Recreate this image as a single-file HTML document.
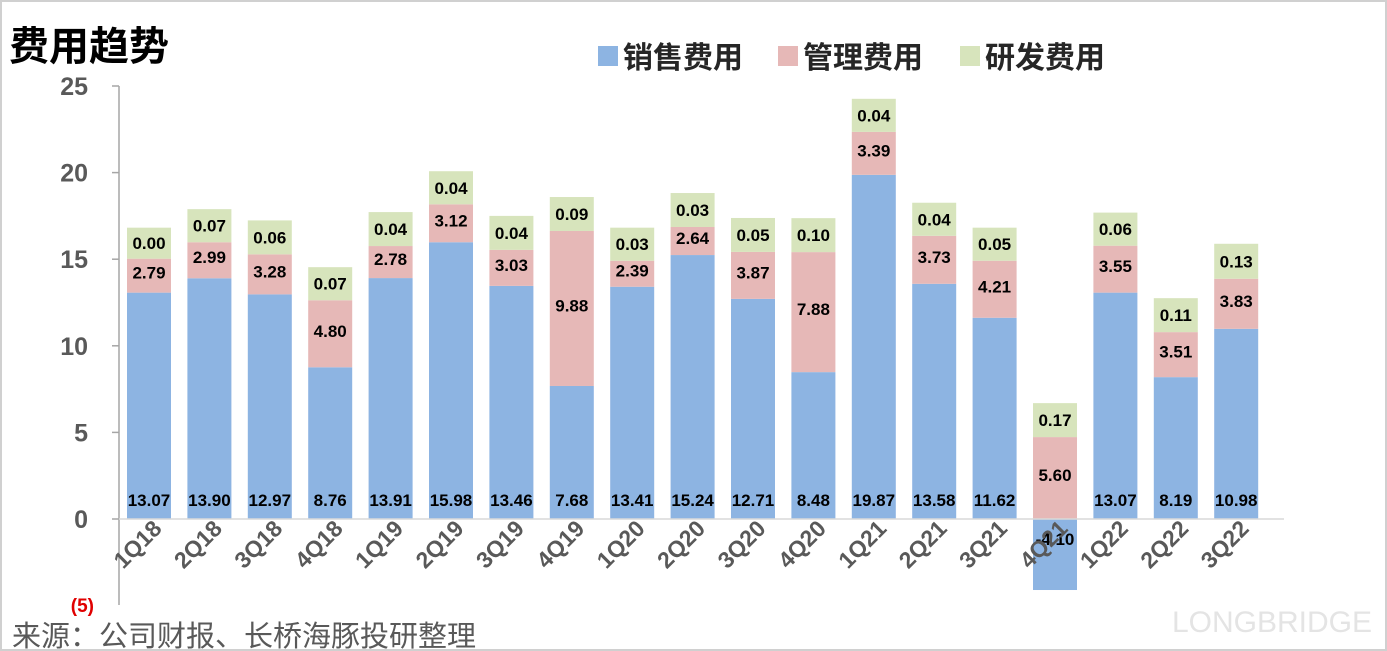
<!DOCTYPE html>
<html><head><meta charset="utf-8"><style>
body{margin:0;background:#fff;}
#wrap{position:relative;width:1387px;height:651px;overflow:hidden;box-sizing:border-box;border:2px solid #d0d0d0;background:#fff;}
svg{position:absolute;left:0;top:0;}
text{font-family:"Liberation Sans","Noto Sans CJK SC",sans-serif;}
</style></head><body>
<div id="wrap">
<svg id="chart" width="1387" height="651"></svg>
</div>
<script>
const categories=["1Q18","2Q18","3Q18","4Q18","1Q19","2Q19","3Q19","4Q19","1Q20","2Q20","3Q20","4Q20","1Q21","2Q21","3Q21","4Q21","1Q22","2Q22","3Q22"];
const salesValues=[13.07,13.90,12.97,8.76,13.91,15.98,13.46,7.68,13.41,15.24,12.71,8.48,19.87,13.58,11.62,-4.10,13.07,8.19,10.98];
const adminLabels=["2.79","2.99","3.28","4.80","2.78","3.12","3.03","9.88","2.39","2.64","3.87","7.88","3.39","3.73","4.21","5.60","3.55","3.51","3.83"];
const rdLabels=["0.00","0.07","0.06","0.07","0.04","0.04","0.04","0.09","0.03","0.03","0.05","0.10","0.04","0.04","0.05","0.17","0.06","0.11","0.13"];
// plotted segment heights as drawn in the reference
const adminHeights=[1.96,2.08,2.31,3.87,1.85,2.19,2.08,8.95,1.5,1.62,2.71,6.93,2.48,2.77,3.29,4.73,2.71,2.6,2.89];
const rdHeights=[1.79,1.91,1.96,1.91,1.96,1.91,1.96,1.96,1.91,1.96,1.96,1.96,1.91,1.91,1.91,1.96,1.91,1.96,2.02];
const yTicks=[25,20,15,10,5,0];

const svg=document.getElementById('chart');
const NS='http://www.w3.org/2000/svg';
const y0=517, pxPerUnit=17.32;
const Y=v=>y0-v*pxPerUnit;
const X=i=>147+i*60.4;
const BW=44;
function el(tag,attrs,txt){const e=document.createElementNS(NS,tag);for(const k in attrs)e.setAttribute(k,attrs[k]);if(txt!==undefined)e.textContent=txt;svg.appendChild(e);return e;}

let t=el('text',{x:7,y:58,'font-size':40,'font-weight':'bold',fill:'#000'},'费用趋势');


const legend=[["销售费用","#8db4e2",596],["管理费用","#e6b8b7",776],["研发费用","#d7e4bc",958]];
legend.forEach(l=>{
 let r=el('rect',{x:l[2],y:44,width:20,height:20,fill:l[1]});
 
 
 let tx=el('text',{x:l[2]+25,y:66,'font-size':30,'font-weight':'bold',fill:'#262626'},l[0]);
 
 
});

let ax=el('line',{x1:117,y1:84,x2:117,y2:603,stroke:'#a6a6a6','stroke-width':1.5});


yTicks.forEach(v=>{
 let tk=el('line',{x1:110,y1:Y(v),x2:117,y2:Y(v),stroke:'#a6a6a6','stroke-width':1.5});
 
 
 let lb=el('text',{x:86,y:Y(v)+9,'font-size':25,'font-weight':'bold',fill:'#595959','text-anchor':'end'},String(v));
 
 
});
let neg=el('text',{x:92,y:610,'font-size':19,'font-weight':'bold',fill:'#e00000','text-anchor':'end'},'(5)');



categories.forEach((c,i)=>{
 const cx=X(i), x=cx-BW/2;
 const s=salesValues[i];
 let b=el('rect',{x:x,y:Math.min(Y(s),y0),width:BW,height:Math.abs(Y(s)-y0),fill:'#8db4e2'});
 
 
 const base=Math.max(s,0);
 const aTop=base+adminHeights[i];
 let a=el('rect',{x:x,y:Y(aTop),width:BW,height:adminHeights[i]*pxPerUnit,fill:'#e6b8b7'});
 
 
 const rTop=aTop+rdHeights[i];
 let r=el('rect',{x:x,y:Y(rTop),width:BW,height:rdHeights[i]*pxPerUnit,fill:'#d7e4bc'});
 
 
 const sy = s>=0 ? 504 : y0+26;
 let sl=el('text',{x:cx,y:sy,'font-size':17,'font-weight':'bold',fill:'#000','text-anchor':'middle'},s.toFixed(2));
 
 
 let al=el('text',{x:cx,y:(Y(aTop)+Y(base))/2+3,'font-size':17,'font-weight':'bold',fill:'#000','text-anchor':'middle'},adminLabels[i]);
 
 
 let rl=el('text',{x:cx,y:(Y(rTop)+Y(aTop))/2+6,'font-size':17,'font-weight':'bold',fill:'#000','text-anchor':'middle'},rdLabels[i]);
 
 
 let xl=el('text',{x:cx+14,y:528,'font-size':23,'font-weight':'bold',fill:'#595959','text-anchor':'end',transform:`rotate(-45 ${cx+14} 528)`},c);
 
 
});
let zl=el('line',{x1:117,y1:y0,x2:1282,y2:y0,stroke:'#d9d9d9','stroke-width':1.5});



let wm=el('text',{x:1270,y:630,'font-size':30,fill:'#e4e4e4','text-anchor':'middle'},'LONGBRIDGE');


let src=el('text',{x:10,y:644,'font-size':29,fill:'#595959'},'来源：公司财报、长桥海豚投研整理');


</script>
</body></html>
